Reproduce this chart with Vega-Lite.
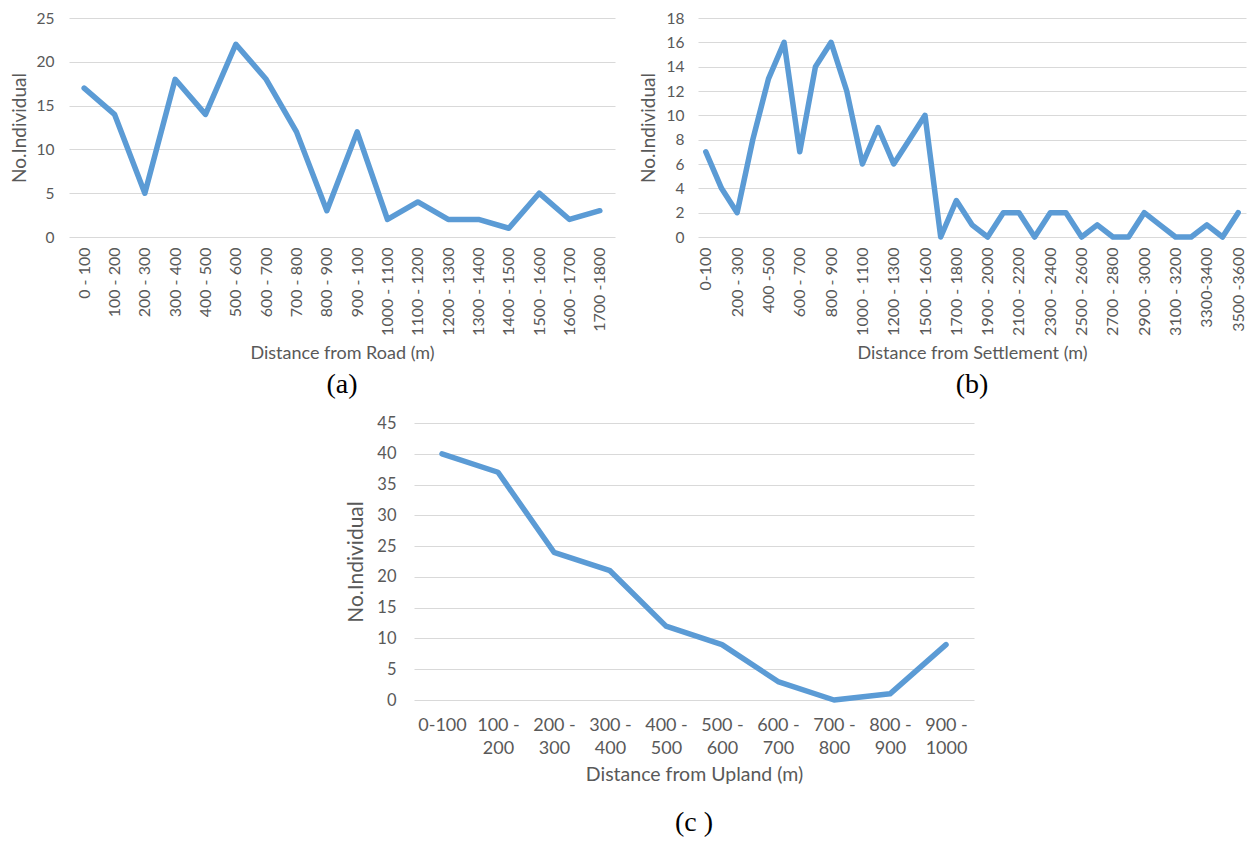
{
  "$schema": "https://vega.github.io/schema/vega-lite/v6.json",
  "background": "white",
  "padding": {"left": 10, "top": 11, "right": 0, "bottom": 0},
  "config": {
    "view": {"stroke": null},
    "font": "Lato",
    "axis": {"labelColor": "#595959", "titleColor": "#595959", "titleFontWeight": "normal", "gridColor": "#D9D9D9", "gridWidth": 1, "domain": false, "ticks": false},
    "title": {"font": "Liberation Serif", "fontWeight": "normal", "color": "#000000", "fontSize": 28, "anchor": "middle"}
  },
  "datasets": {
    "road": [
      {"range": "0 - 100", "count": 17}, {"range": "100 - 200", "count": 14}, {"range": "200 - 300", "count": 5},
      {"range": "300 - 400", "count": 18}, {"range": "400 - 500", "count": 14}, {"range": "500 - 600", "count": 22},
      {"range": "600 - 700", "count": 18}, {"range": "700 - 800", "count": 12}, {"range": "800 - 900", "count": 3},
      {"range": "900 - 100", "count": 12}, {"range": "1000 - 1100", "count": 2}, {"range": "1100 - 1200", "count": 4},
      {"range": "1200 - 1300", "count": 2}, {"range": "1300 - 1400", "count": 2}, {"range": "1400 - 1500", "count": 1},
      {"range": "1500 - 1600", "count": 5}, {"range": "1600 - 1700", "count": 2}, {"range": "1700 -1800", "count": 3}
    ],
    "settlement": [
      {"range": "0-100", "count": 7}, {"range": "100 - 200", "count": 4}, {"range": "200 - 300", "count": 2},
      {"range": "300 - 400", "count": 8}, {"range": "400 -500", "count": 13}, {"range": "500 - 600", "count": 16},
      {"range": "600 - 700", "count": 7}, {"range": "700 - 800", "count": 14}, {"range": "800 - 900", "count": 16},
      {"range": "900 - 1000", "count": 12}, {"range": "1000 - 1100", "count": 6}, {"range": "1100 - 1200", "count": 9},
      {"range": "1200 - 1300", "count": 6}, {"range": "1300 - 1400", "count": 8}, {"range": "1500 - 1600", "count": 10},
      {"range": "1600 - 1700", "count": 0}, {"range": "1700 - 1800", "count": 3}, {"range": "1800 - 1900", "count": 1},
      {"range": "1900 - 2000", "count": 0}, {"range": "2000 - 2100", "count": 2}, {"range": "2100 - 2200", "count": 2},
      {"range": "2200 - 2300", "count": 0}, {"range": "2300 - 2400", "count": 2}, {"range": "2400 - 2500", "count": 2},
      {"range": "2500 - 2600", "count": 0}, {"range": "2600 - 2700", "count": 1}, {"range": "2700 - 2800", "count": 0},
      {"range": "2800 - 2900", "count": 0}, {"range": "2900 - 3000", "count": 2}, {"range": "3000 - 3100", "count": 1},
      {"range": "3100 - 3200", "count": 0}, {"range": "3200 - 3300", "count": 0}, {"range": "3300-3400", "count": 1},
      {"range": "3400 - 3500", "count": 0}, {"range": "3500 -3600", "count": 2}
    ],
    "upland": [
      {"range": "0-100", "count": 40}, {"range": "100 - 200", "count": 37}, {"range": "200 - 300", "count": 24},
      {"range": "300 - 400", "count": 21}, {"range": "400 - 500", "count": 12}, {"range": "500 - 600", "count": 9},
      {"range": "600 - 700", "count": 3}, {"range": "700 - 800", "count": 0}, {"range": "800 - 900", "count": 1},
      {"range": "900 - 1000", "count": 9}
    ]
  },
  "vconcat": [
    {
      "hconcat": [
        {
          "data": {"name": "road"},
          "width": 546,
          "height": 219,
          "title": {"text": "(a)", "orient": "bottom", "offset": 9},
          "mark": {"type": "line", "color": "#5B9BD5", "strokeWidth": 5.5, "strokeJoin": "round", "strokeCap": "round"},
          "encoding": {
            "x": {"field": "range", "type": "ordinal", "sort": null, "scale": {"type": "point", "padding": 0.5},
              "axis": {"title": "Distance from Road  (m)", "labelAngle": -90, "labelPadding": 10, "labelFontSize": 16, "titleFontSize": 18, "titlePadding": 9, "grid": false}},
            "y": {"field": "count", "type": "quantitative", "scale": {"domain": [0, 25]},
              "axis": {"values": [0, 5, 10, 15, 20, 25], "title": "No.Individual", "labelFontSize": 15.5, "titleFontSize": 19, "labelPadding": 15, "minExtent": 35, "maxExtent": 35, "titlePadding": 5}}
          }
        },
        {
          "data": {"name": "settlement"},
          "width": 548,
          "height": 219,
          "title": {"text": "(b)", "orient": "bottom", "offset": 9},
          "mark": {"type": "line", "color": "#5B9BD5", "strokeWidth": 5.5, "strokeJoin": "round", "strokeCap": "round"},
          "encoding": {
            "x": {"field": "range", "type": "ordinal", "sort": null, "scale": {"type": "point", "padding": 0.5},
              "axis": {"title": "Distance from Settlement (m)", "labelAngle": -90, "labelPadding": 10, "labelFontSize": 16, "titleFontSize": 18, "titlePadding": 9, "grid": false, "labelOverlap": false,
                "values": ["0-100", "200 - 300", "400 -500", "600 - 700", "800 - 900", "1000 - 1100", "1200 - 1300", "1500 - 1600", "1700 - 1800", "1900 - 2000", "2100 - 2200", "2300 - 2400", "2500 - 2600", "2700 - 2800", "2900 - 3000", "3100 - 3200", "3300-3400", "3500 -3600"]}},
            "y": {"field": "count", "type": "quantitative", "scale": {"domain": [0, 18]},
              "axis": {"values": [0, 2, 4, 6, 8, 10, 12, 14, 16, 18], "title": "No.Individual", "labelFontSize": 15.5, "titleFontSize": 19, "labelPadding": 14, "minExtent": 35, "maxExtent": 35, "titlePadding": 5}}
          }
        }
      ],
      "spacing": 24
    },
    {
      "hconcat": [
        {
          "width": 276,
          "height": 277,
          "data": {"values": []},
          "mark": {"type": "point", "opacity": 0},
          "encoding": {}
        },
        {
          "data": {"name": "upland"},
          "width": 560,
          "height": 277,
          "title": {"text": "(c )", "orient": "bottom", "offset": 25},
          "mark": {"type": "line", "color": "#5B9BD5", "strokeWidth": 5.5, "strokeJoin": "round", "strokeCap": "round"},
          "encoding": {
            "x": {"field": "range", "type": "ordinal", "sort": null, "scale": {"type": "point", "padding": 0.5},
              "axis": {"title": "Distance from Upland (m)", "labelAngle": 0, "labelPadding": 16, "labelFontSize": 18, "labelLineHeight": 23, "labelExpr": "split(replace(datum.value, ' - ', ' -|'), '|')", "titleFontSize": 19.5, "titlePadding": 8, "grid": false}},
            "y": {"field": "count", "type": "quantitative", "scale": {"domain": [0, 45]},
              "axis": {"values": [0, 5, 10, 15, 20, 25, 30, 35, 40, 45], "title": "No.Individual", "labelFontSize": 16.5, "titleFontSize": 21, "labelPadding": 18, "minExtent": 43, "maxExtent": 43, "titlePadding": 5}}
          }
        }
      ],
      "spacing": 0
    }
  ],
  "spacing": 15
}
